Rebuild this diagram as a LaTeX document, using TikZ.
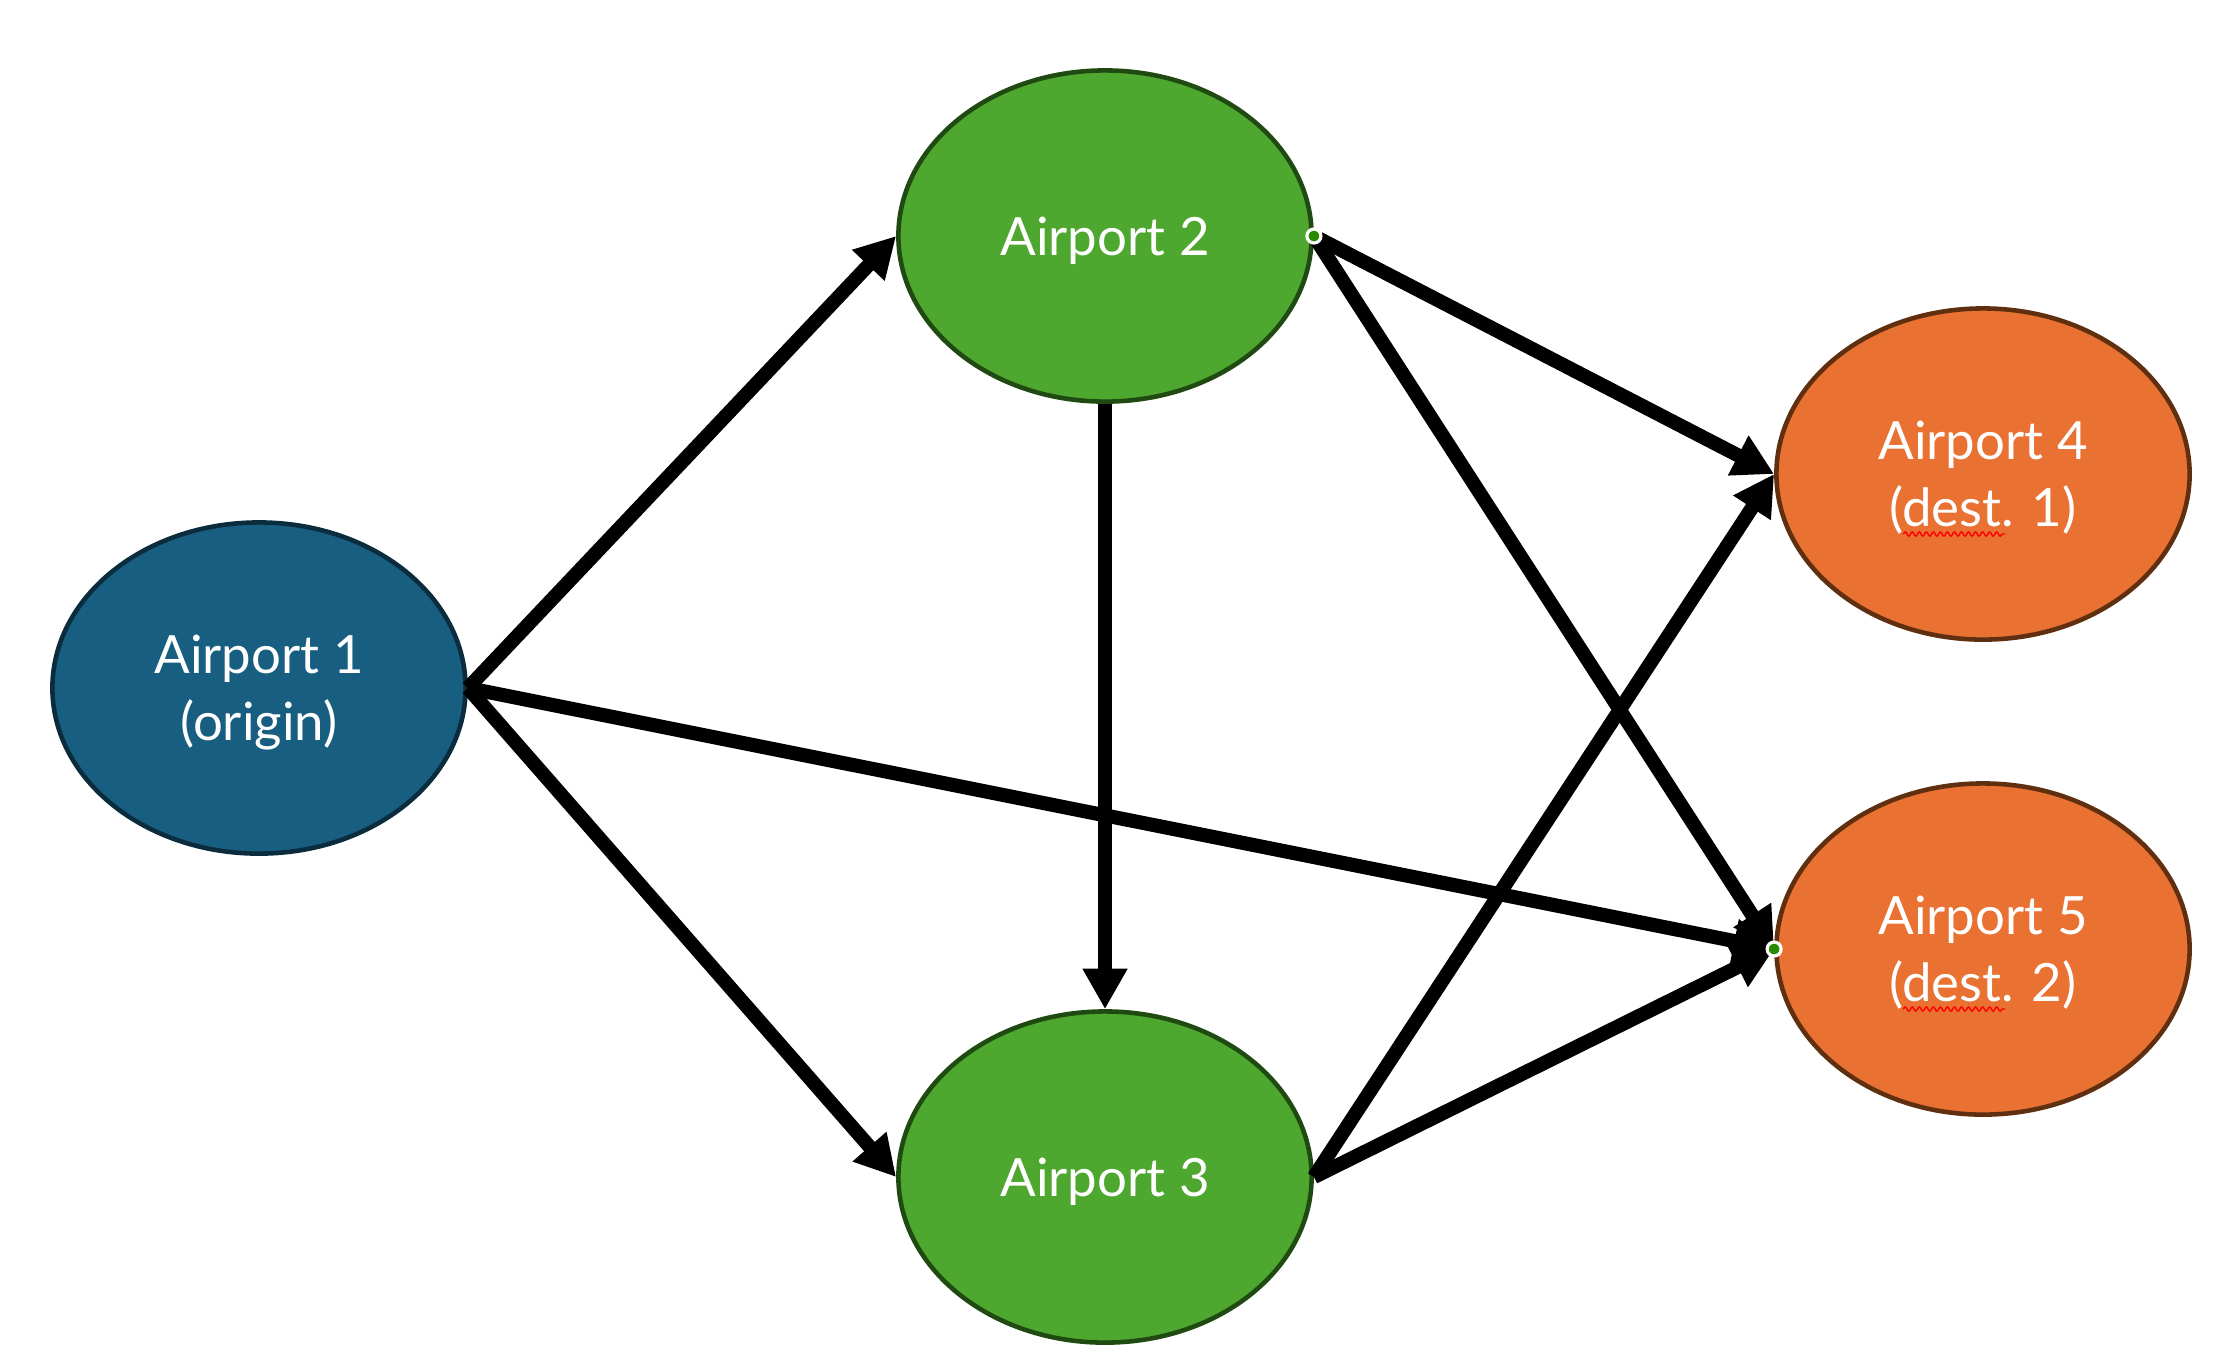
\documentclass[tikz,border=0pt]{standalone}
\usepackage{fontspec}
\setmainfont{Lato}
\usetikzlibrary{shapes.geometric,arrows.meta,calc,decorations.pathmorphing}
\definecolor{originblue}{HTML}{175E81}
\definecolor{originedge}{HTML}{0B2C3D}
\definecolor{hubgreen}{HTML}{4EA72E}
\definecolor{hubedge}{HTML}{1F4A12}
\definecolor{destorange}{HTML}{E97132}
\definecolor{destedge}{HTML}{5F2F10}
\definecolor{handlegreen}{HTML}{2A8A00}
% centred label lines, set a little below the shape's centre
\newcommand\airportlabel[1]{\raisebox{-1.7pt}[\height][\depth]{%
  \begin{tabular}{@{}c@{}}#1\end{tabular}}}
\begin{document}
\begin{tikzpicture}[x=0.01cm,y=-0.01cm,
  airport/.style={ellipse, draw, line width=1.3pt, minimum width=4.13cm,
    minimum height=3.31cm, inner sep=0pt, text=white,
    font=\fontsize{15}{19}\selectfont},
  origin/.style={airport, fill=originblue, draw=originedge},
  hub/.style={airport, fill=hubgreen, draw=hubedge},
  dest/.style={airport, fill=destorange, draw=destedge},
  route/.style={line width=4pt, -{Triangle[width=12pt,length=11.5pt]}},
  handle/.style={circle, fill=handlegreen, draw=white, line width=0.9pt,
    minimum size=0.14cm, inner sep=0pt},
  squiggle/.style={red, line width=0.4pt,
    decorate, decoration={snake, amplitude=0.6pt, segment length=2pt}}
]
\useasboundingbox (0,0) rectangle (2231,1365);

% airports
\node[origin] (a1) at (259,688) {\airportlabel{Airport 1\\(origin)}};
\node[hub]    (a2) at (1105,236) {\airportlabel{Airport 2}};
\node[hub]    (a3) at (1105,1177) {\airportlabel{Airport 3}};
\node[dest]   (a4) at (1983,474) {\airportlabel{Airport 4\\(dest. 1)}};
\node[dest]   (a5) at (1983,949) {\airportlabel{Airport 5\\(dest. 2)}};

% spell-check marks under "dest"
\draw[squiggle] ($(a4.center)+(-80,60)$) -- ($(a4.center)+(22,60)$);
\draw[squiggle] ($(a5.center)+(-80,60)$) -- ($(a5.center)+(22,60)$);

% routes
\draw[route] (a1.east) -- (a2.west);
\draw[route] (a1.east) -- (a3.west);
\draw[route] (a1.east) -- (a5.west);
\draw[route] (a2.south) -- (a3.north);
\draw[route] (a2.east) -- (a4.west);
\draw[route] (a2.east) -- (a5.west);
\draw[route] (a3.east) -- (a4.west);
\draw[route] (a3.east) -- (a5.west);

% connection handles
\node[handle] (h2) at (a2.east) {};
\node[handle] (h5) at (a5.west) {};
\end{tikzpicture}
\end{document}
